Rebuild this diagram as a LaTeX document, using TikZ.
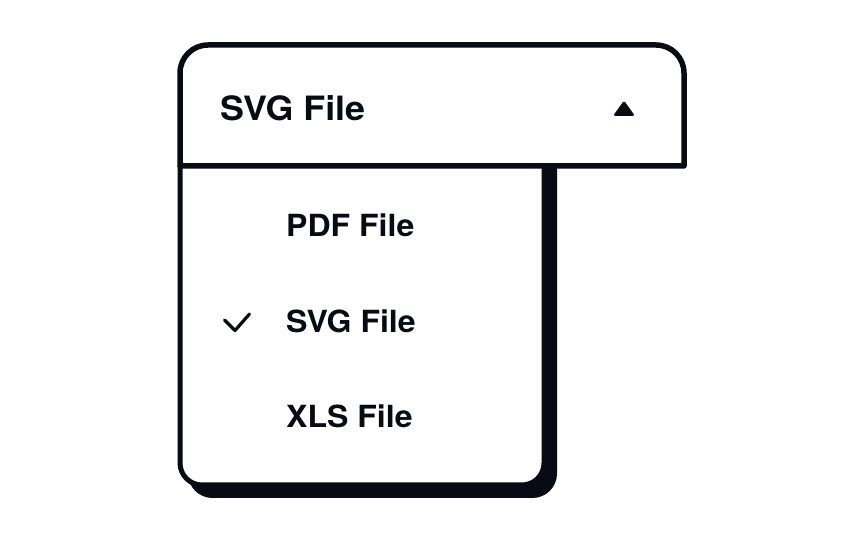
\documentclass[tikz,border=0pt]{standalone}
\usepackage{fontspec}
\setmainfont{TeX Gyre Heros}
\definecolor{ink}{RGB}{10,10,20}
\begin{document}
\begin{tikzpicture}[x=1pt,y=1pt,
  boxline/.style={draw=ink,line width=5.5pt,line join=round},
  head/.style={anchor=base west,inner sep=0pt,text=ink,transform shape,xscale=1.07,font=\fontsize{33.5}{36}\selectfont\bfseries},
  item/.style={anchor=base west,inner sep=0pt,text=ink,transform shape,xscale=1.05,font=\fontsize{30.5}{33}\selectfont\bfseries}]
\useasboundingbox[fill=white] (0,0) rectangle (864,540);
% shadow
\fill[ink,draw=ink,line width=5pt] (190.5,374) -- (190.5,66.5) arc[start angle=180,end angle=270,radius=22] -- (532.5,44.5) arc[start angle=270,end angle=360,radius=22] -- (554.5,374) -- cycle;
% panel
\filldraw[fill=white,draw=ink,line width=5pt] (180,374) -- (180,77) arc[start angle=180,end angle=270,radius=22] -- (522,55) arc[start angle=270,end angle=360,radius=22] -- (544,374);
% top box
\filldraw[fill=white,boxline] (180,374) -- (180,467) arc[start angle=180,end angle=90,radius=28] -- (656,495) arc[start angle=90,end angle=0,radius=28] -- (684,374) -- cycle;
\node[head] (hdr) at (220,419) {SVG File};
\fill[ink,rounded corners=1.8pt] (613,424) -- (635,424) -- (624,439.5) -- cycle;
\node[item] (pdf) at (286,303) {PDF File};
\node[item] (svg) at (286,207.5) {SVG File};
\node[item] (xls) at (286,112) {XLS File};
\draw[ink,line width=3.2pt,line cap=round,line join=round] (224.5,220) -- (235,209.5) -- (249.5,226);
\end{tikzpicture}
\end{document}
